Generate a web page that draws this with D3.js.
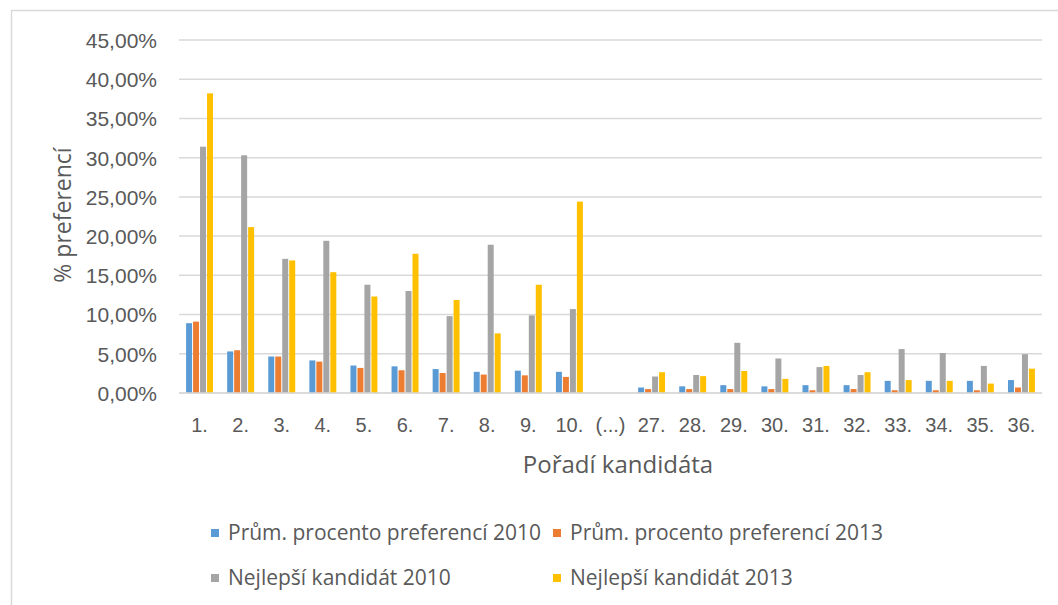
<!DOCTYPE html>
<html lang="cs">
<head>
<meta charset="utf-8">
<script src="https://cdn.jsdelivr.net/npm/d3@7"></script>
<style>
body { margin: 0; background: #fff; }
svg { display: block; font-family: "Open Sans", sans-serif; }
.grid line { stroke: #d9d9d9; stroke-width: 1.5; }
.axis text { fill: #595959; }
</style>
</head>
<body>
<svg width="1058" height="605"></svg>
<script>
// candidate rank order
var categories = ["1.", "2.", "3.", "4.", "5.", "6.", "7.", "8.", "9.", "10.", "(...)",
  "27.", "28.", "29.", "30.", "31.", "32.", "33.", "34.", "35.", "36."];

var seriesNames = ["Prům. procento preferencí 2010", "Prům. procento preferencí 2013",
  "Nejlepší kandidát 2010", "Nejlepší kandidát 2013"];

// values in percent, (...) is empty
var avg2010  = [8.9, 5.3, 4.65, 4.15, 3.5, 3.4, 3.05, 2.7, 2.85, 2.7, null,
  0.7, 0.85, 1.0, 0.85, 1.0, 1.0, 1.55, 1.55, 1.55, 1.65];
var avg2013  = [9.1, 5.45, 4.65, 4.0, 3.2, 2.9, 2.55, 2.35, 2.25, 2.05, null,
  0.5, 0.5, 0.5, 0.5, 0.35, 0.5, 0.35, 0.35, 0.35, 0.7];
var best2010 = [31.4, 30.3, 17.1, 19.4, 13.8, 13.0, 9.8, 18.9, 9.9, 10.7, null,
  2.1, 2.3, 6.4, 4.4, 3.3, 2.3, 5.6, 5.1, 3.45, 4.95];
var best2013 = [38.2, 21.15, 16.9, 15.4, 12.3, 17.75, 11.85, 7.6, 13.8, 24.4, null,
  2.65, 2.15, 2.8, 1.8, 3.45, 2.65, 1.65, 1.55, 1.2, 3.1];

var yTicks = [0, 5, 10, 15, 20, 25, 30, 35, 40, 45];
var colors = ["#5b9bd5", "#ed7d31", "#a5a5a5", "#ffc000"];

var allSeries = [avg2010, avg2013, best2010, best2013];

var svg = d3.select("svg");

// chart area border
svg.append("rect")
  .attr("x", 11.5).attr("y", 10.5)
  .attr("width", 1200).attr("height", 800)
  .attr("fill", "none").attr("stroke", "#d9d9d9").attr("stroke-width", 1.5);

var plotLeft = 179, plotRight = 1042, plotTop = 40, plotBottom = 393;

var x0 = d3.scaleBand()
  .domain(categories)
  .range([plotLeft, plotRight])
  .paddingInner(0.32)
  .paddingOuter(0.16);

var x1 = d3.scaleBand()
  .domain(d3.range(4))
  .range([0, x0.bandwidth()]);

var y = d3.scaleLinear().domain([0, 45]).range([plotBottom, plotTop]);

// gridlines
svg.append("g").attr("class", "grid")
  .selectAll("line")
  .data(yTicks)
  .enter().append("line")
    .attr("x1", plotLeft).attr("x2", plotRight)
    .attr("y1", function(d) { return y(d); })
    .attr("y2", function(d) { return y(d); });

// y axis labels
var yAxis = d3.axisLeft(y)
  .tickValues(yTicks)
  .tickSize(0)
  .tickPadding(0)
  .tickFormat(function(d) { return d3.format(".2f")(d).replace(".", ",") + "%"; });

svg.append("g")
  .attr("class", "axis")
  .attr("transform", "translate(157,0)")
  .call(yAxis)
  .call(function(g) { g.select(".domain").remove(); })
  .selectAll("text")
    .style("font-size", "21px")
    .attr("dy", "0.35em");

// bars
var groups = svg.append("g")
  .selectAll("g")
  .data(categories)
  .enter().append("g")
    .attr("transform", function(d) { return "translate(" + x0(d) + ",0)"; });

groups.selectAll("rect")
  .data(function(d, i) {
    return allSeries.map(function(s, k) { return { k: k, v: s[i] }; })
      .filter(function(e) { return e.v != null; });
  })
  .enter().append("rect")
    .attr("x", function(d) { return x1(d.k) + 0.5; })
    .attr("width", x1.bandwidth() - 1)
    .attr("y", function(d) { return y(d.v); })
    .attr("height", function(d) { return y(0) - y(d.v); })
    .attr("fill", function(d) { return colors[d.k]; });

// zero line on top
svg.append("line")
  .attr("x1", plotLeft).attr("x2", plotRight)
  .attr("y1", y(0)).attr("y2", y(0))
  .attr("stroke", "#d9d9d9").attr("stroke-width", 1.5);

// x axis labels
var xAxis = d3.axisBottom(x0).tickSize(0).tickPadding(0);
svg.append("g")
  .attr("class", "axis")
  .attr("transform", "translate(0,425)")
  .call(xAxis)
  .call(function(g) { g.select(".domain").remove(); })
  .selectAll("text")
    .style("font-size", "20px")
    .attr("dy", "0.35em");

// axis titles
svg.append("text")
  .attr("x", 618).attr("y", 465)
  .attr("dy", "0.35em")
  .attr("text-anchor", "middle")
  .attr("fill", "#595959")
  .style("font-size", "24px")
  .text("Pořadí kandidáta");

svg.append("text")
  .attr("transform", "translate(63,215) rotate(-90)")
  .attr("dy", "0.35em")
  .attr("text-anchor", "middle")
  .attr("fill", "#595959")
  .style("font-size", "23px")
  .text("% preferencí");

// legend
var legendPos = [[211, 533], [553, 533], [211, 578], [553, 578]];
var legend = svg.append("g")
  .selectAll("g")
  .data(seriesNames)
  .enter().append("g")
    .attr("transform", function(d, i) { return "translate(" + legendPos[i][0] + "," + legendPos[i][1] + ")"; });

legend.append("rect")
  .attr("x", 0).attr("y", -4)
  .attr("width", 8).attr("height", 8)
  .attr("fill", function(d, i) { return colors[i]; });

legend.append("text")
  .attr("x", 17)
  .attr("dy", "0.35em")
  .attr("fill", "#595959")
  .style("font-size", "21px")
  .text(function(d) { return d; });
</script>
</body>
</html>
